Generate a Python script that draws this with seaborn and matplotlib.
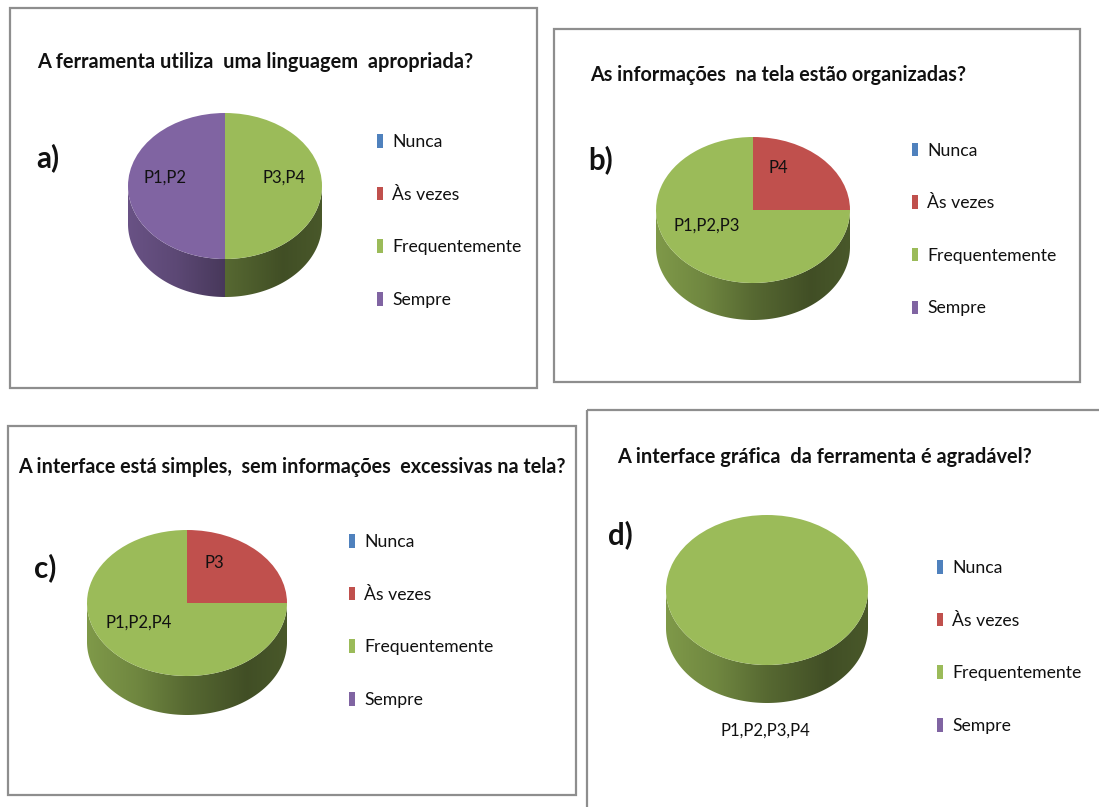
import numpy as np
import matplotlib
matplotlib.use("Agg")
import matplotlib.pyplot as plt
from matplotlib.patches import Rectangle, Polygon
import seaborn as sns

# ---------------------------------------------------------------- data
categories = ["Nunca", "Às vezes", "Frequentemente", "Sempre"]
category_colors = ["#4F81BD", "#C0504D", "#9BBB59", "#8064A2"]

titles = [
    "A ferramenta utiliza  uma linguagem  apropriada?",
    "As informações  na tela estão organizadas?",
    "A interface está simples,  sem informações  excessivas na tela?",
    "A interface gráfica  da ferramenta é agradável?",
]
panel_letters = ["a)", "b)", "c)", "d)"]

counts_a = [0, 0, 2, 2]
counts_b = [0, 1, 3, 0]
counts_c = [0, 1, 3, 0]
counts_d = [0, 0, 4, 0]

participants_a = ["", "", "P3,P4", "P1,P2"]
participants_b = ["", "P4", "P1,P2,P3", ""]
participants_c = ["", "P3", "P1,P2,P4", ""]
participants_d = ["", "", "P1,P2,P3,P4", ""]

# ---------------------------------------------------------------- layout (pixels)
W, H = 1099, 807
layout = [
    dict(box=(10, 8, 537, 388), title=(37, 62, 435), letter=(36, 158),
         pie=(225, 186, 97, 73, 38), legend=(377, 221),
         label_pos={"P3,P4": (0.61, 0.12), "P1,P2": (-0.62, 0.12)}),
    dict(box=(554, 29, 1080, 382), title=(590, 75, 375), letter=(588, 160),
         pie=(753, 210, 97, 73, 37), legend=(912, 229.5),
         label_pos={"P4": (0.26, 0.58), "P1,P2,P3": (-0.48, -0.21)}),
    dict(box=(8, 426, 576, 795), title=(18, 467, 548), letter=(34, 568),
         pie=(187, 603, 100, 73, 39), legend=(349, 621),
         label_pos={"P3": (0.27, 0.55), "P1,P2,P4": (-0.48, -0.27)}),
    dict(box=(587, 410, 1110, 830), title=(617, 457, 413), letter=(608, 535),
         pie=(767, 590, 101, 75, 38), legend=(937, 647),
         label_pos={"P1,P2,P3,P4": (-0.02, -1.87)}),
]

panels = [
    (counts_a, participants_a),
    (counts_b, participants_b),
    (counts_c, participants_c),
    (counts_d, participants_d),
]

# ---------------------------------------------------------------- style
sns.set_theme(style="white")
plt.rcParams["font.family"] = ["Lato", "DejaVu Sans"]
palette = sns.color_palette(category_colors)
INK = "#111111"

fig = plt.figure(figsize=(W / 100, H / 100), dpi=100)
fig.patch.set_facecolor("white")
renderer = fig.canvas.get_renderer()

bg = fig.add_axes([0, 0, 1, 1], zorder=0)
bg.set_xlim(0, W)
bg.set_ylim(H, 0)
bg.axis("off")


def fit_size(text, width_px, weight="normal", base=20.0):
    """Font size (pt) that gives `text` the wanted width in pixels."""
    t = bg.text(0, 0, text, fontsize=base, fontweight=weight)
    w = t.get_window_extent(renderer).width
    t.remove()
    return base * width_px / w


LEGEND_FS = fit_size("Frequentemente", 130)
LABEL_FS = fit_size("P1,P2", 43)
LETTER_FS = fit_size("a)", 23, weight="bold")
ROW_PX = 52.5
fs_px = LEGEND_FS * 100 / 72
LABEL_SPACING = (ROW_PX - 0.9 * fs_px) / fs_px


def side_shade(x):
    """Brightness of the pie wall, lighter on the left, darker to the right."""
    return np.interp(x, [-1.0, -0.5, 0.0, 0.6, 1.0], [0.82, 0.72, 0.56, 0.42, 0.47])


def front_ranges(t1, t2):
    """Parts of the angular range [t1, t2] (degrees) lying on the front half."""
    out = []
    for k in range(-2, 2):
        lo, hi = 180 + 360 * k, 360 + 360 * k
        a, b = max(t1, lo), min(t2, hi)
        if b - a > 1e-6:
            out.append((a, b))
    return out


for i, ((values, names), lay) in enumerate(zip(panels, layout)):
    x0, y0, x1, y1 = lay["box"]
    bg.add_patch(Rectangle((x0, y0), x1 - x0, y1 - y0, fill=False,
                           edgecolor="#8e8e8e", linewidth=1.6, zorder=1))
    tx, ty, tw = lay["title"]
    bg.text(tx, ty, titles[i], ha="left", va="center",
            fontsize=fit_size(titles[i], tw, weight="bold"),
            fontweight="bold", color=INK)
    bg.text(lay["letter"][0], lay["letter"][1], panel_letters[i],
            ha="left", va="center", fontsize=LETTER_FS, fontweight="bold",
            color=INK)

    cx, cy, rx, ry, depth = lay["pie"]
    dd = depth / ry
    ax = fig.add_axes([(cx - rx) / W, (H - (cy + ry + depth)) / H,
                       2 * rx / W, (2 * ry + depth) / H], zorder=2)
    wedges, _ = ax.pie(values, colors=palette, startangle=90,
                       counterclock=False, radius=1, center=(0, 0),
                       wedgeprops=dict(linewidth=0))
    ax.set_aspect("auto")
    ax.axis("off")

    # cylinder wall under each slice, shaded left to right
    xs = np.linspace(-1, 1, 300)
    for w, col in zip(wedges, palette):
        w.set_zorder(3)
        for a, b in front_ranges(w.theta1, w.theta2):
            t = np.radians(np.linspace(a, b, 120))
            top = np.column_stack([np.cos(t), np.sin(t)])
            bot = np.column_stack([np.cos(t[::-1]), np.sin(t[::-1]) - dd])
            poly = Polygon(np.vstack([top, bot]), closed=True,
                           facecolor="none", edgecolor="none")
            ax.add_patch(poly)
            img = np.clip(np.array(col)[None, None, :] *
                          side_shade(xs)[None, :, None], 0, 1)
            im = ax.imshow(img, extent=(-1, 1, -1 - dd, 0.05), aspect="auto",
                           interpolation="bilinear", zorder=1)
            im.set_clip_path(poly)
    ax.set_xlim(-1, 1)
    ax.set_ylim(-1 - dd, 1)

    for name in names:
        if name:
            px, py = lay["label_pos"][name]
            ax.text(px, py, name, ha="center", va="center", fontsize=LABEL_FS,
                    color=INK, zorder=5, clip_on=False)

    leg = ax.legend(wedges, categories, loc="center left",
                    bbox_to_anchor=lay["legend"], bbox_transform=bg.transData,
                    frameon=False, fontsize=LEGEND_FS, handlelength=0.36,
                    handleheight=0.8, handletextpad=0.5,
                    labelspacing=LABEL_SPACING, borderpad=0, borderaxespad=0)
    for txt in leg.get_texts():
        txt.set_color(INK)

fig.savefig("out.png", dpi=100, facecolor="white")
